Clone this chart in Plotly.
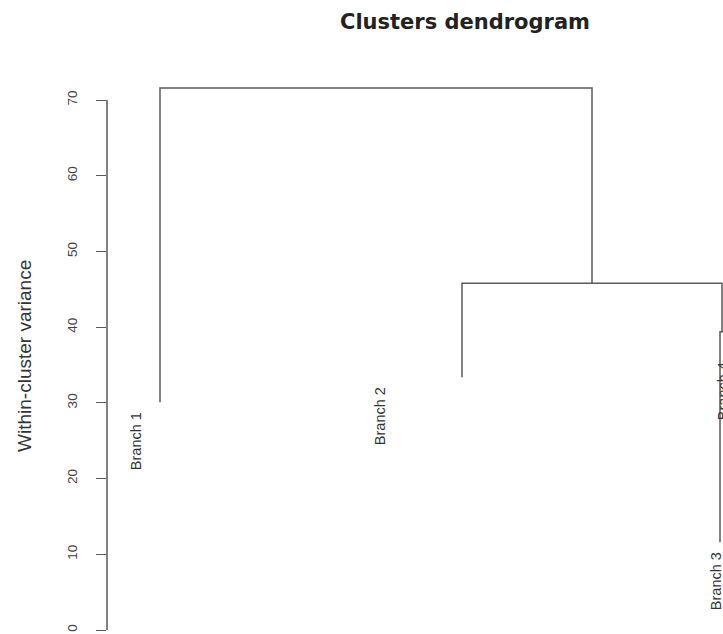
import plotly.graph_objects as go

# ---- data ----
labels = ["Branch 1", "Branch 2", "Branch 3", "Branch 4"]
leaf_pos = [0.53, 3.55, 6.13, 6.17]          # leaf positions along the (hidden) x axis
leaf_height = [30.1, 33.4, 11.6, 36.7]       # within-cluster variance of each leaf
merge_left = [2, 1, 0]                        # node ids: leaves 0-3, merges 4-6
merge_right = [3, 4, 5]
merge_height = [39.4, 45.8, 71.6]
label_pos = [0.29, 2.73, 6.09, 6.16]         # label positions along the x axis
y_ticks = [0, 10, 20, 30, 40, 50, 60, 70]

LINE = "#5a5a5a"
TXT = "#333333"

# ---- build dendrogram segments ----
node_x = list(leaf_pos)
node_y = list(leaf_height)
xs, ys = [], []
for l, r, h in zip(merge_left, merge_right, merge_height):
    xs += [node_x[l], node_x[l], node_x[r], node_x[r], None]
    ys += [node_y[l], h, h, node_y[r], None]
    node_x.append((node_x[l] + node_x[r]) / 2)
    node_y.append(h)

fig = go.Figure()
fig.add_trace(go.Scatter(x=xs, y=ys, mode="lines",
                         line=dict(color=LINE, width=1.5),
                         hoverinfo="skip", showlegend=False))

annotations = []
for lab, lx, lh in zip(labels, label_pos, leaf_height):
    annotations.append(dict(x=lx, y=lh, xref="x", yref="y", text=lab,
                            showarrow=False, textangle=-90,
                            xanchor="center", yanchor="middle", yshift=-39,
                            font=dict(family="Liberation Sans, Arial", size=14.5, color=TXT)))
annotations.append(dict(x=-82 / 616, y=0.493, xref="paper", yref="paper",
                        text="Within-cluster variance", showarrow=False, textangle=-90,
                        xanchor="center", yanchor="middle",
                        font=dict(family="Liberation Sans, Arial", size=19, color=TXT)))

fig.update_layout(
    width=723, height=634,
    margin=dict(l=107, r=0, t=70, b=0),
    paper_bgcolor="white", plot_bgcolor="white",
    title=dict(text="Clusters dendrogram", x=465 / 723, xanchor="center",
               y=1 - 22 / 634, yanchor="middle", xref="container", yref="container",
               font=dict(family="DejaVu Sans", size=21, weight="bold", color="#222222")),
    xaxis=dict(range=[0, 6.16], visible=False, showgrid=False, zeroline=False),
    yaxis=dict(range=[-0.528, 73.97], tickvals=y_ticks, ticktext=[str(v) for v in y_ticks],
               ticks="outside", ticklen=10, tickwidth=1.3, tickcolor=LINE,
               tickangle=-90, ticklabelstandoff=14,
               tickfont=dict(family="Liberation Sans, Arial", size=13.5, color="#444444"),
               showgrid=False, zeroline=False, showline=False),
    annotations=annotations,
    shapes=[dict(type="line", xref="paper", yref="y", x0=0, x1=0,
                 y0=y_ticks[0], y1=y_ticks[-1], line=dict(color=LINE, width=1.5))],
)

fig.write_html("out.html", config={"displayModeBar": False},
               post_script="document.body.style.margin='0';document.body.style.overflow='hidden';")
